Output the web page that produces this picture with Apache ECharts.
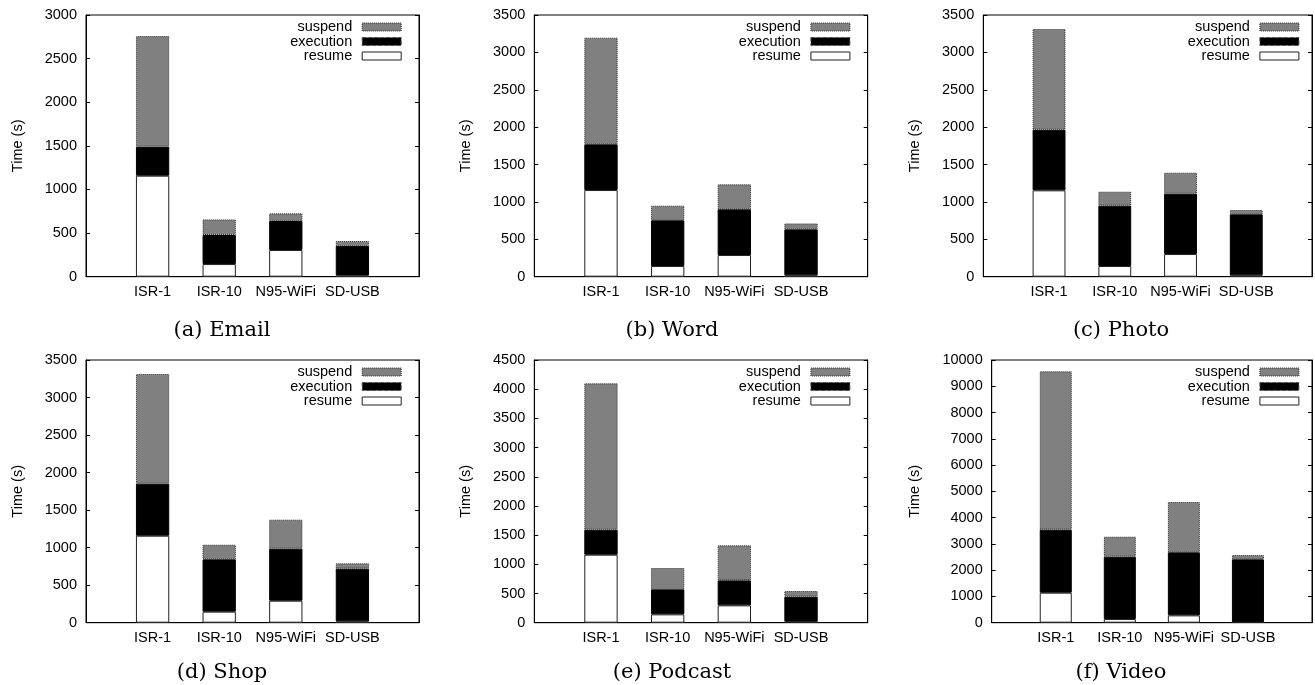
<!DOCTYPE html>
<html>
<head>
<meta charset="utf-8">
<script src="https://cdn.jsdelivr.net/npm/echarts@6/dist/echarts.min.js"></script>
<style>
html,body{margin:0;padding:0;background:#fff;}
#chart{width:1315px;height:685px;}
</style>
</head>
<body>
<div id="chart"></div>
<script>
// ---- data ----
const categories = ['ISR-1', 'ISR-10', 'N95-WiFi', 'SD-USB'];
const seriesNames = ['resume', 'execution', 'suspend'];
const legendOrder = ['suspend', 'execution', 'resume'];
const captions = ['(a) Email', '(b) Word', '(c) Photo', '(d) Shop', '(e) Podcast', '(f) Video'];
const yAxisName = 'Time (s)';

const emailResume    = [1158, 145, 306, 15];
const emailExecution = [332, 333, 332, 336];
const emailSuspend   = [1268, 179, 88, 58];

const wordResume    = [1159, 143, 290, 18];
const wordExecution = [611, 611, 611, 615];
const wordSuspend   = [1427, 196, 334, 80];

const photoResume    = [1155, 143, 303, 18];
const photoExecution = [811, 807, 807, 816];
const photoSuspend   = [1347, 187, 281, 58];

const shopResume    = [1159, 147, 293, 18];
const shopExecution = [693, 697, 693, 702];
const shopSuspend   = [1462, 195, 387, 71];

const podcastResume    = [1165, 143, 297, 17];
const podcastExecution = [428, 428, 428, 428];
const podcastSuspend   = [2507, 366, 600, 98];

const videoResume    = [1142, 140, 279, 20];
const videoExecution = [2399, 2373, 2399, 2391];
const videoSuspend   = [6028, 761, 1916, 165];

const yMax      = [3000, 3500, 3500, 3500, 4500, 10000];
const yInterval = [500, 500, 500, 500, 500, 1000];

const panelData = [
  [emailResume, emailExecution, emailSuspend],
  [wordResume, wordExecution, wordSuspend],
  [photoResume, photoExecution, photoSuspend],
  [shopResume, shopExecution, shopSuspend],
  [podcastResume, podcastExecution, podcastSuspend],
  [videoResume, videoExecution, videoSuspend]
];

// ---- layout (px) ----
const grids = [
  {left: 86,    top: 15,  width: 333,   height: 261.7},
  {left: 534.3, top: 15,  width: 333.4, height: 261.7},
  {left: 983.3, top: 15,  width: 333.4, height: 261.7},
  {left: 86,    top: 360, width: 333,   height: 262.7},
  {left: 534.3, top: 360, width: 333.4, height: 262.7},
  {left: 991.7, top: 360, width: 325,   height: 262.7}
];
const nameGaps = [61, 61, 61, 61, 61, 69];
const captionX = [222, 672, 1121, 222, 672, 1121];
const captionTop = [320, 320, 320, 662, 662, 662];
const legendRight = [913.3, 464.6, 15.6, 913.3, 464.6, 15.6];

const AX_FONT = 'Liberation Sans, Arial, Helvetica, sans-serif';
const FS = 14.5;
const barStyles = {
  resume:    {color: '#ffffff', borderColor: '#222222', borderWidth: 1, borderType: 'solid'},
  execution: {color: '#000000', borderColor: '#000000', borderWidth: 1, borderType: 'solid'},
  suspend:   {color: '#808080', borderColor: '#2a2a2a', borderWidth: 1, borderType: 'dotted'}
};
const iconStyles = {
  resume:    {color: '#ffffff', borderColor: '#222222', borderWidth: 1, borderType: 'solid'},
  execution: {color: '#000000', borderColor: '#555555', borderWidth: 1, borderType: 'dashed'},
  suspend:   {color: '#808080', borderColor: '#2a2a2a', borderWidth: 1, borderType: 'dotted'}
};

const axisCats = [''].concat(categories, ['']);

const option = {
  animation: false,
  backgroundColor: '#ffffff',
  grid: [], xAxis: [], yAxis: [], series: [], legend: [], title: []
};

grids.forEach(function (g, i) {
  option.grid.push({
    left: g.left, top: g.top, width: g.width, height: g.height,
    show: true, borderColor: '#000', borderWidth: 1, backgroundColor: 'transparent',
    containLabel: false
  });
  option.xAxis.push({
    type: 'category', gridIndex: i, data: axisCats, boundaryGap: false,
    axisLine: {show: true, lineStyle: {color: '#000', width: 1}},
    axisTick: {show: false},
    axisLabel: {interval: 0, margin: 8, color: '#000', fontFamily: AX_FONT, fontSize: FS},
    splitLine: {show: false}
  });
  option.yAxis.push({
    type: 'value', gridIndex: i, min: 0, max: yMax[i], interval: yInterval[i],
    position: 'left',
    name: yAxisName, nameLocation: 'middle', nameGap: nameGaps[i], nameRotate: 90,
    nameTextStyle: {color: '#000', fontFamily: AX_FONT, fontSize: FS},
    axisLine: {show: true, lineStyle: {color: '#000', width: 1}},
    axisTick: {show: true, inside: true, length: 4, lineStyle: {color: '#000', width: 1}},
    axisLabel: {margin: 9, color: '#000', fontFamily: AX_FONT, fontSize: FS,
      formatter: function (v) { return String(v); }},
    splitLine: {show: false}
  });
  option.yAxis.push({
    type: 'value', gridIndex: i, min: 0, max: yMax[i], interval: yInterval[i],
    position: 'right',
    axisLine: {show: true, lineStyle: {color: '#000', width: 1}},
    axisTick: {show: true, inside: true, length: 4, lineStyle: {color: '#000', width: 1}},
    axisLabel: {show: false},
    splitLine: {show: false}
  });
  seriesNames.forEach(function (name, k) {
    option.series.push({
      type: 'bar', name: name, xAxisIndex: i, yAxisIndex: 2 * i,
      stack: 'panel' + i, barWidth: '50%',
      itemStyle: barStyles[name],
      emphasis: {disabled: true},
      data: [null].concat(panelData[i][k], [null])
    });
  });
  option.legend.push({
    orient: 'vertical', align: 'right',
    right: legendRight[i], top: g.top + 4.5,
    itemWidth: 39, itemHeight: 8, itemGap: -0.5, padding: 0,
    selectedMode: false,
    textStyle: {color: '#000', fontFamily: AX_FONT, fontSize: FS, lineHeight: 14, padding: [0, 5, 0, 0]},
    data: legendOrder.map(function (n) {
      return {name: n, icon: 'rect', itemStyle: iconStyles[n]};
    })
  });
  option.title.push({
    text: captions[i], left: captionX[i], top: captionTop[i], textAlign: 'center', padding: 0,
    textStyle: {color: '#000', fontFamily: 'DejaVu Serif, serif', fontSize: 21, fontWeight: 'normal'}
  });
});

const chart = echarts.init(document.getElementById('chart'), null, {renderer: 'canvas'});
chart.setOption(option);
</script>
</body>
</html>
